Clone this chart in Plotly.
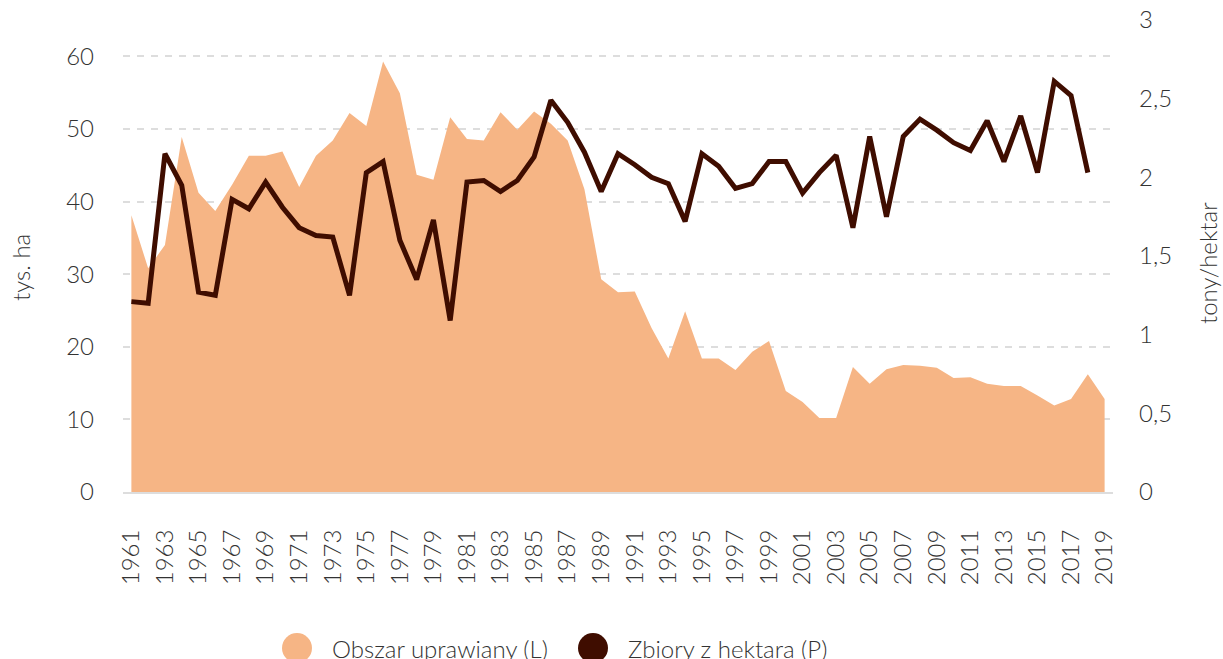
import plotly.graph_objects as go

years = [str(y) for y in range(1961, 2020)]

area_tys_ha = [
    38.1, 30.8, 34.0, 48.9, 41.2, 38.7, 42.3, 46.3, 46.3, 46.9,
    42.0, 46.3, 48.4, 52.2, 50.4, 59.3, 54.9, 43.7, 43.0, 51.6,
    48.6, 48.4, 52.3, 49.9, 52.4, 50.7, 48.4, 41.7, 29.3, 27.5,
    27.6, 22.6, 18.4, 24.9, 18.4, 18.4, 16.8, 19.3, 20.8, 13.9,
    12.4, 10.2, 10.2, 17.2, 14.9, 16.9, 17.5, 17.4, 17.1, 15.7,
    15.8, 14.9, 14.6, 14.6, 13.3, 11.9, 12.8, 16.2, 12.8,
]

yield_t_ha = [
    1.21, 1.20, 2.15, 1.95, 1.27, 1.25, 1.86, 1.80, 1.97, 1.81,
    1.68, 1.63, 1.62, 1.25, 2.03, 2.10, 1.60, 1.35, 1.73, 1.09,
    1.97, 1.98, 1.91, 1.98, 2.13, 2.49, 2.35, 2.16, 1.91, 2.15,
    2.08, 2.00, 1.96, 1.72, 2.15, 2.07, 1.93, 1.96, 2.10, 2.10,
    1.90, 2.03, 2.14, 1.68, 2.26, 1.75, 2.26, 2.37, 2.30, 2.22,
    2.17, 2.36, 2.10, 2.39, 2.03, 2.61, 2.52, 2.03,
]

tick_years = years[::2]
series_names = ["Obszar uprawiany (L)", "Zbiory z hektara (P)"]
colors = ["#F6B585", "#3F0D00"]

FONT = "Lato Light, Lato"
TXT = "#333333"
FS = 24

fig = go.Figure()
fig.add_trace(go.Scatter(
    x=years, y=area_tys_ha, mode="lines", fill="tozeroy",
    fillcolor=colors[0], line=dict(width=0, color=colors[0]),
    name=series_names[0], showlegend=False, yaxis="y", hoverinfo="skip",
))
fig.add_trace(go.Scatter(
    x=years[:len(yield_t_ha)], y=yield_t_ha, mode="lines",
    line=dict(width=5, color=colors[1]),
    name=series_names[1], showlegend=False, yaxis="y2", hoverinfo="skip",
))

W, H = 1223, 659
L, T = 123, 20
R = W - 1113
B = H - 492
pw, ph = W - L - R, H - T - B

def px_x(p):
    return (p - L) / pw

def px_y(p):
    return (H - B - p) / ph

shapes = []
annotations = []
legend_items = [(297, 330), (593, 626)]
for (cx, tx), name, col in zip(legend_items, series_names, colors):
    shapes.append(dict(
        type="circle", xref="paper", yref="paper",
        xsizemode="pixel", ysizemode="pixel",
        xanchor=px_x(cx), yanchor=px_y(648),
        x0=-15, x1=15, y0=-15, y1=15,
        fillcolor=col, line=dict(width=0),
    ))
    annotations.append(dict(
        text=name, xref="paper", yref="paper", x=px_x(tx), y=px_y(648),
        xanchor="left", yanchor="middle", showarrow=False,
        font=dict(family=FONT, size=FS, color=TXT, weight=300),
    ))

annotations.append(dict(
    text="tys. ha", xref="paper", yref="paper", x=px_x(20), y=px_y(268),
    textangle=-90, showarrow=False, xanchor="center", yanchor="middle",
    font=dict(family=FONT, size=FS, color=TXT, weight=300),
))
annotations.append(dict(
    text="tony/hektar", xref="paper", yref="paper", x=px_x(1207), y=px_y(263),
    textangle=-90, showarrow=False, xanchor="center", yanchor="middle",
    font=dict(family=FONT, size=FS, color=TXT, weight=300),
))

tickfont = dict(family=FONT, size=FS, color=TXT, weight=300)

fig.update_layout(
    width=W, height=H,
    margin=dict(l=L, r=R, t=T, b=B, pad=0, autoexpand=False),
    paper_bgcolor="white", plot_bgcolor="white",
    separators=", ",
    font=dict(family=FONT, color=TXT, weight=300),
    xaxis=dict(
        type="category", range=[-0.5, len(years) - 0.5],
        tickmode="array", tickvals=tick_years, ticktext=tick_years,
        tickangle=-90, tickfont=tickfont, showgrid=False,
        showline=True, linecolor="#dddddd", linewidth=2,
        ticks="", ticklabelstandoff=26, zeroline=False, automargin=False,
    ),
    yaxis=dict(
        range=[0, 65], tickvals=[0, 10, 20, 30, 40, 50, 60],
        tickfont=tickfont, showgrid=True, gridcolor="#dddddd",
        gridwidth=2, griddash="7px,7px", zeroline=False, showline=False,
        ticks="", ticklabelstandoff=28, ticklabeloverflow="allow",
        automargin=False,
    ),
    yaxis2=dict(
        range=[0, 3], tickvals=[0, 0.5, 1, 1.5, 2, 2.5, 3],
        overlaying="y", side="right", tickfont=tickfont,
        showgrid=False, zeroline=False, showline=False, ticks="",
        ticklabelstandoff=25, ticklabeloverflow="allow", automargin=False,
    ),
    shapes=shapes, annotations=annotations, showlegend=False,
)

fig.write_html(
    "out.html",
    config={"displayModeBar": False},
    post_script="document.body.style.margin='0';document.body.style.overflow='hidden';",
)
